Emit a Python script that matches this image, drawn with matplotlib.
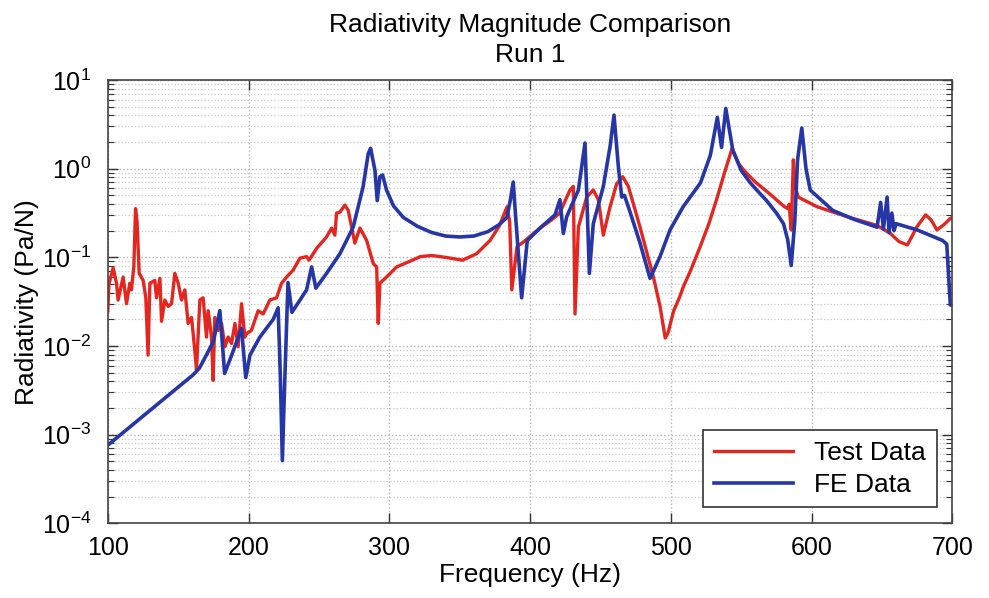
import numpy as np
import matplotlib
matplotlib.use("Agg")
import matplotlib.pyplot as plt

#test data (red)
test_freq = [100.0, 100.8, 103.8, 106.2, 107.3, 110.9, 113.3, 115.6, 116.8, 118.5,
             119.7, 120.8, 122.3, 125.1, 127.0, 128.6, 129.9, 133.4, 134.6, 137.0,
             138.2, 140.5, 142.9, 145.3, 147.6, 150.0, 152.4, 154.7, 157.1, 159.5,
             161.8, 163.0, 165.4, 167.7, 170.1, 171.3, 173.7, 174.8, 176.0, 178.4,
             180.8, 183.2, 185.5, 187.9, 190.3, 192.6, 195.0, 197.4, 198.6, 202.0,
             206.8, 210.4, 215.1, 219.9, 223.4, 227.0, 231.7, 236.5, 241.2, 243.0,
             248.3, 255.4, 259.0, 261.3, 262.5, 264.9, 268.4, 270.8, 275.5, 279.1,
             283.9, 288.6, 291.0, 292.1, 293.3, 298.0, 305.2, 315.0, 322.0, 330.0,
             340.0, 352.0, 362.0, 371.5, 378.0, 383.6, 385.5, 387.0, 390.7, 395.0,
             407.0, 415.0, 421.0, 428.3, 430.7, 431.9, 434.3, 440.2, 444.9, 448.5,
             452.0, 456.8, 461.5, 465.8, 469.8, 478.1, 487.6, 492.3, 496.0, 498.0,
             502.0, 506.0, 508.7, 514.0, 520.8, 527.0, 533.0, 538.0, 543.5, 548.0,
             552.0, 560.0, 570.0, 580.0, 583.0, 584.0, 585.5, 587.0, 588.2, 590.5,
             604.0, 627.0, 646.5, 656.0, 662.0, 668.0, 675.0, 681.0, 685.0, 689.0,
             694.0, 698.5, 700.0]
test_val = [0.025, 0.050, 0.076, 0.051, 0.033, 0.060, 0.030, 0.051, 0.043, 0.079,
            0.355, 0.251, 0.066, 0.055, 0.035, 0.0079, 0.051, 0.055, 0.035, 0.058,
            0.019, 0.033, 0.028, 0.030, 0.066, 0.051, 0.033, 0.043, 0.018, 0.021,
            0.0089, 0.0054, 0.033, 0.035, 0.0126, 0.025, 0.0126, 0.0041, 0.021, 0.015,
            0.018, 0.0098, 0.0126, 0.0107, 0.018, 0.0098, 0.030, 0.0126, 0.0138, 0.015,
            0.025, 0.023, 0.033, 0.035, 0.051, 0.060, 0.072, 0.098, 0.102, 0.093,
            0.126, 0.170, 0.214, 0.178, 0.316, 0.324, 0.389, 0.339, 0.145, 0.214,
            0.155, 0.085, 0.078, 0.018, 0.051, 0.060, 0.078, 0.091, 0.102, 0.105,
            0.100, 0.093, 0.110, 0.155, 0.224, 0.372, 0.251, 0.043, 0.132, 0.148,
            0.214, 0.263, 0.316, 0.575, 0.631, 0.023, 0.219, 0.479, 0.575, 0.447,
            0.178, 0.372, 0.676, 0.813, 0.631, 0.219, 0.060, 0.028, 0.0123, 0.0141,
            0.025, 0.035, 0.046, 0.071, 0.132, 0.240, 0.479, 0.891, 1.70, 1.15,
            0.955, 0.708, 0.525, 0.380, 0.355, 0.398, 0.204, 1.26, 0.631, 0.479,
            0.372, 0.282, 0.229, 0.186, 0.151, 0.138, 0.224, 0.302, 0.263, 0.204,
            0.234, 0.275, 0.282]

#FE data (blue)
fe_freq = [100.0, 160.4, 165.0, 170.0, 175.0, 179.6, 183.0, 188.0, 195.0, 198.0,
           201.0, 208.0, 217.5, 221.0, 222.5, 224.0, 225.5, 228.0, 230.8, 236.0,
           241.2, 244.8, 247.8, 255.4, 264.9, 274.3, 281.4, 285.0, 286.7, 289.8,
           291.4, 293.3, 295.2, 298.0, 303.0, 310.0, 320.0, 330.0, 340.0, 350.0,
           360.0, 370.0, 378.0, 383.5, 386.0, 388.0, 390.0, 394.0, 398.0, 407.0,
           417.7, 421.2, 423.6, 426.0, 434.3, 439.0, 442.1, 444.9, 452.0, 456.8,
           459.6, 462.7, 465.1, 467.0, 469.8, 478.1, 485.2, 492.3, 499.4, 508.7,
           521.0, 528.0, 533.0, 536.0, 539.0, 544.0, 550.0, 556.0, 561.0, 568.0,
           575.0, 580.0, 583.0, 585.5, 588.0, 590.0, 593.0, 596.0, 599.0, 615.0,
           630.0, 646.5, 649.0, 651.0, 653.6, 655.0, 657.0, 658.5, 660.0, 675.0,
           693.0, 696.0, 698.5, 700.0]
fe_val = [0.00076, 0.0047, 0.0056, 0.0079, 0.0112, 0.0251, 0.0049, 0.0079, 0.0158, 0.0044,
          0.0079, 0.0126, 0.020, 0.027, 0.0050, 0.00051, 0.0032, 0.052, 0.024, 0.032,
          0.043, 0.078, 0.045, 0.066, 0.110, 0.219, 0.631, 1.48, 1.70, 0.955,
          0.437, 0.813, 0.851, 0.575, 0.380, 0.282, 0.224, 0.191, 0.174, 0.170,
          0.174, 0.195, 0.234, 0.282, 0.447, 0.708, 0.251, 0.035, 0.155, 0.214,
          0.302, 0.447, 0.186, 0.288, 0.575, 1.95, 0.066, 0.240, 0.631, 1.78,
          4.03, 1.05, 0.479, 0.501, 0.372, 0.145, 0.058, 0.102, 0.204, 0.372,
          0.692, 1.41, 3.80, 1.74, 4.79, 1.62, 0.955, 0.708, 0.575, 0.437,
          0.316, 0.240, 0.158, 0.081, 0.251, 1.26, 2.88, 1.00, 0.575, 0.339,
          0.269, 0.219, 0.417, 0.209, 0.479, 0.191, 0.316, 0.200, 0.240, 0.204,
          0.155, 0.141, 0.029, 0.029]

plt.rcParams["font.family"] = ["Liberation Sans", "DejaVu Sans"]
plt.rcParams["axes.unicode_minus"] = False

fig = plt.figure(figsize=(9.89, 5.98), dpi=100)
ax = fig.add_axes([0.109, 0.125, 0.854, 0.741])

ax.plot(test_freq, test_val, color="#e3261f", lw=2.4, label="Test Data")
ax.plot(fe_freq, fe_val, color="#2636a6", lw=2.6, label="FE Data")

ax.set_yscale("log")
ax.set_xlim(100, 700)
ax.set_ylim(1e-4, 1e1)
ax.set_xticks([100, 200, 300, 400, 500, 600, 700])
ax.yaxis.set_minor_locator(matplotlib.ticker.LogLocator(base=10, subs=np.arange(2, 10)))
ax.yaxis.set_minor_formatter(matplotlib.ticker.NullFormatter())

#matlab style ticks and grid
ax.tick_params(which="both", direction="in", top=True, right=True, labelsize=18, color="#333333")
ax.tick_params(which="major", length=7, width=1)
ax.tick_params(which="minor", length=4, width=0.8)
ax.tick_params(axis="x", pad=9)
ax.tick_params(axis="y", pad=12)
ax.grid(which="major", axis="both", linestyle=":", color="#b5b5b5", lw=1)
ax.grid(which="minor", axis="y", linestyle=":", color="#c8c8c8", lw=0.9)
for sp in ax.spines.values():
    sp.set_color("#444444")
    sp.set_linewidth(1.2)

ax.set_title("Radiativity Magnitude Comparison\nRun 1", fontsize=19, linespacing=1.3, pad=13)
ax.set_xlabel("Frequency (Hz)", fontsize=19, labelpad=2)
ax.set_ylabel("Radiativity (Pa/N)", fontsize=19, labelpad=2)

leg = ax.legend(loc="lower right", fontsize=19, fancybox=False, framealpha=1,
                edgecolor="#333333", handlelength=3.0, borderaxespad=0.6, labelspacing=0.3)
leg.get_frame().set_linewidth(1.2)

plt.savefig("out.png", dpi=100)
